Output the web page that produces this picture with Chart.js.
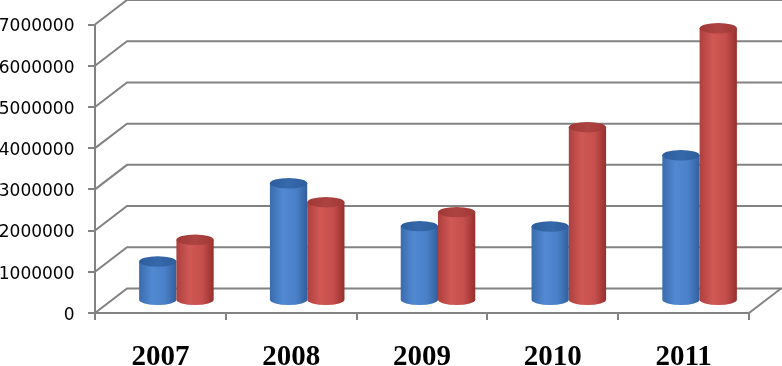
<!DOCTYPE html>
<html>
<head>
<meta charset="utf-8">
<script src="https://cdn.jsdelivr.net/npm/chart.js@4.4.1/dist/chart.umd.min.js"></script>
<style>
  html, body { margin: 0; padding: 0; background: #ffffff; overflow: hidden; }
  #wrap { width: 782px; height: 366px; }
</style>
</head>
<body>
<div id="wrap"><canvas id="c" width="782" height="366"></canvas></div>
<script>
// ---- data ----
const categories = ['2007', '2008', '2009', '2010', '2011'];
const seriesBlue = [950000, 2850000, 1810000, 1800000, 3530000];
const seriesRed  = [1480000, 2390000, 2150000, 4210000, 6610000];
const yTicks = [0, 1000000, 2000000, 3000000, 4000000, 5000000, 6000000, 7000000];

// ---- styling ----
const DEPTH_DX = 32, DEPTH_DY = -24.5;    // back wall offset
const BAR_DX = 16, BAR_DY = -12.3;        // bar row sits half way
const LINE = '#828282';

const palettes = [
  { body: ['#3a6cad', '#5189d2', '#4a80c8', '#315f9c'], top: ['#2d5d9c', '#3669ab'] },
  { body: ['#ad403e', '#d05855', '#c54f4c', '#962f2d'], top: ['#9f3835', '#ae4441'] }
];

const wallPlugin = {
  id: 'wall3d',
  beforeDatasetsDraw(chart) {
    const { ctx, chartArea } = chart;
    const ys = chart.scales.y;
    ctx.save();
    ctx.strokeStyle = LINE;
    ctx.lineWidth = 2;
    yTicks.forEach(v => {
      const py = ys.getPixelForValue(v);
      ctx.beginPath();
      ctx.moveTo(chartArea.left, py);
      ctx.lineTo(chartArea.left + DEPTH_DX, py + DEPTH_DY);
      ctx.lineTo(chart.width + 2, py + DEPTH_DY);
      ctx.stroke();
    });
    // floor right edge
    ctx.beginPath();
    ctx.moveTo(chartArea.right, chartArea.bottom);
    ctx.lineTo(chartArea.right + DEPTH_DX, chartArea.bottom + DEPTH_DY);
    ctx.stroke();
    ctx.restore();
  },
  afterDatasetsDraw(chart) {
    const { ctx } = chart;
    chart.data.datasets.forEach((ds, di) => {
      const meta = chart.getDatasetMeta(di);
      const pal = palettes[di];
      meta.data.forEach(el => {
        const p = el.getProps(['x', 'y', 'base', 'width'], true);
        const cx = p.x + BAR_DX;
        const rx = p.width / 2;
        const ry = 5.2;
        const topY = p.y + BAR_DY;
        const botY = p.base + BAR_DY;
        const x0 = cx - rx, x1 = cx + rx;
        ctx.save();
        const g = ctx.createLinearGradient(x0, 0, x1, 0);
        g.addColorStop(0, pal.body[0]);
        g.addColorStop(0.35, pal.body[1]);
        g.addColorStop(0.7, pal.body[2]);
        g.addColorStop(1, pal.body[3]);
        ctx.fillStyle = g;
        ctx.beginPath();
        ctx.moveTo(x0, topY);
        ctx.lineTo(x0, botY);
        ctx.ellipse(cx, botY, rx, ry, 0, Math.PI, 0, true);
        ctx.lineTo(x1, topY);
        ctx.closePath();
        ctx.fill();
        const gt = ctx.createLinearGradient(x0, 0, x1, 0);
        gt.addColorStop(0, pal.top[0]);
        gt.addColorStop(0.5, pal.top[1]);
        gt.addColorStop(1, pal.top[0]);
        ctx.fillStyle = gt;
        ctx.beginPath();
        ctx.ellipse(cx, topY, rx, ry, 0, 0, Math.PI * 2);
        ctx.fill();
        ctx.restore();
      });
    });
  }
};

new Chart(document.getElementById('c'), {
  type: 'bar',
  data: {
    labels: categories,
    datasets: [
      { label: 'A', data: seriesBlue, backgroundColor: 'rgba(0,0,0,0)', borderWidth: 0 },
      { label: 'B', data: seriesRed, backgroundColor: 'rgba(0,0,0,0)', borderWidth: 0 }
    ]
  },
  options: {
    responsive: false,
    animation: false,
    events: [],
    layout: { padding: { top: 24.5, right: 33, left: 0, bottom: 0 } },
    datasets: { bar: { categoryPercentage: 0.57, barPercentage: 1.0 } },
    plugins: { legend: { display: false }, tooltip: { enabled: false } },
    scales: {
      x: {
        grid: { display: true, drawOnChartArea: false, drawTicks: true, tickLength: 7, color: LINE, lineWidth: 2, offset: true },
        border: { display: true, color: LINE, width: 2 },
        ticks: { color: '#000000', padding: 20.5, maxRotation: 0, font: { family: '"Liberation Serif", "Times New Roman", serif', size: 29, weight: 'bold' } },
        afterFit(scale) { scale.height = 53; }
      },
      y: {
        min: 0, max: 7000000,
        afterBuildTicks(scale) { scale.ticks = yTicks.map(v => ({ value: v })); },
        grid: { display: true, drawOnChartArea: false, drawTicks: true, tickLength: 7, color: LINE, lineWidth: 2 },
        border: { display: true, color: LINE, width: 2 },
        ticks: { color: '#000000', padding: 13.5, labelOffset: 2.5, callback: v => String(v), font: { family: '"DejaVu Sans", Verdana, sans-serif', size: 17 } },
        afterFit(scale) { scale.width = 95; }
      }
    }
  },
  plugins: [wallPlugin]
});
</script>
</body>
</html>
